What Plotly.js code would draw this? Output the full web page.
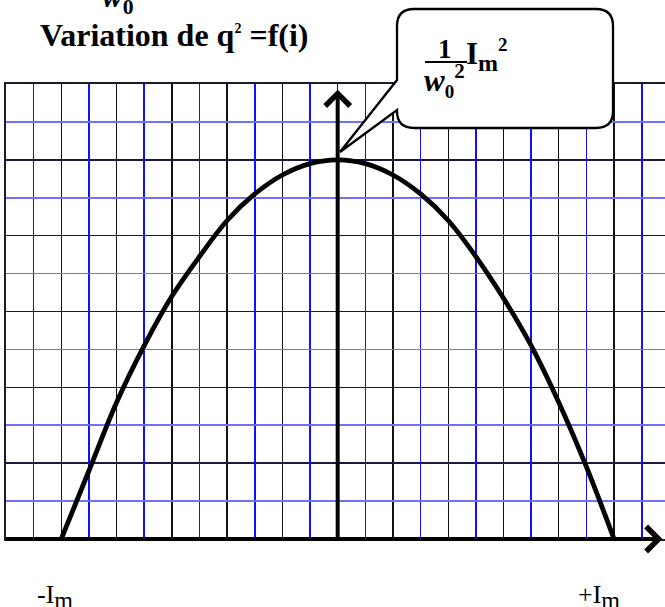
<!DOCTYPE html>
<html>
<head>
<meta charset="utf-8">
<script src="https://cdn.plot.ly/plotly-3.0.1.min.js"></script>
<style>
  html, body { margin: 0; padding: 0; background: #fff; overflow: hidden; width: 665px; height: 607px; }
  #chart { width: 700px; height: 607px; }
</style>
</head>
<body>
<div id="chart"></div>
<script>
// ---- data (i in units of Im, q^2 in units of Im^2/w0^2) ----
const iValues  = [-1.0, -0.9, -0.8, -0.7, -0.6, -0.5, -0.4, -0.3, -0.2, -0.1, 0.0,
                   0.1,  0.2,  0.3,  0.4,  0.5,  0.6,  0.7,  0.8,  0.9, 1.0];
const q2Values = [0.0, 0.18, 0.36, 0.51, 0.64, 0.745, 0.84, 0.91, 0.96, 0.99, 1.0,
                  0.99, 0.96, 0.91, 0.84, 0.745, 0.635, 0.51, 0.36, 0.19, 0.0];
const tickLabels = ['-I<sub><span style="font-size:24px">m</span></sub>',
                    '+I<sub><span style="font-size:24px">m</span></sub>'];
const titleText = '<b>Variation de q<sup><span style="font-size:14px">2</span></sup> =f(i)</b>';
const calloutNum = '<b>1</b>';
const calloutDen = '<b><i>w</i><sub><span style="font-size:19px">0</span></sub><sup><span style="font-size:21px">2</span></sup></b>';
const calloutAmp = '<b>I<sub><span style="font-size:24px">m</span></sub><sup><span style="font-size:19px">2</span></sup></b>';
const topCut = '<b><i>w</i><sub>0</sub></b>';

// ---- layout geometry ----
const W = 700, H = 607, ML = 6, MR = 3, MT = 84, MB = 68;
const PW = W - ML - MR, PH = H - MT - MB;
const px = x => (x - ML) / PW;          // pixel -> paper x
const py = y => (H - MB - y) / PH;      // pixel -> paper y
const FONT = 'Liberation Serif, Times New Roman, serif';
const X_RANGE = [-1.2, 1.3], Y_RANGE = [0, 1.2];

function txt(text, x, y, size, xanchor) {
  return { text: text, xref: 'paper', yref: 'paper', x: px(x), y: py(y),
           xanchor: xanchor || 'center', yanchor: 'middle', showarrow: false,
           borderpad: 0, borderwidth: 0,
           font: { family: FONT, size: size, color: '#000' } };
}

// callout bubble path (pixel geometry converted to paper)
const P = (x, y) => px(x).toFixed(5) + ',' + py(y).toFixed(5);
const bL = 397, bR = 613, bT = 9, bB = 128, r = 17;
const bubble = 'M' + P(bL + r, bT) + ' L' + P(bR - r, bT) +
  ' Q' + P(bR, bT) + ' ' + P(bR, bT + r) +
  ' L' + P(bR, bB - r) + ' Q' + P(bR, bB) + ' ' + P(bR - r, bB) +
  ' L' + P(bL + r, bB) + ' Q' + P(bL, bB) + ' ' + P(bL, bB - r) +
  ' L' + P(bL, 110) + ' L' + P(340, 152) + ' L' + P(bL, 80) +
  ' L' + P(bL, bT + r) + ' Q' + P(bL, bT) + ' ' + P(bL + r, bT) + ' Z';

const curve = {
  x: iValues, y: q2Values, type: 'scatter', mode: 'lines',
  line: { color: '#000', width: 4.8, shape: 'spline', smoothing: 1 },
  hoverinfo: 'skip'
};
// empty trace that only carries the blue (half-step) grid axes
const gridCarrier = { x: [], y: [], type: 'scatter', mode: 'lines', xaxis: 'x2', yaxis: 'y2', hoverinfo: 'skip' };

const arrowBase = { text: ' ', showarrow: true, arrowhead: 4, arrowsize: 1.2, arrowwidth: 4,
  arrowcolor: '#000', xref: 'x', yref: 'y', axref: 'x', ayref: 'y',
  font: { size: 1 }, borderpad: 0, borderwidth: 0 };

const annotations = [
  Object.assign({}, arrowBase, { x: 1.175, y: 0, ax: -1.2, ay: 0 }),
  Object.assign({}, arrowBase, { x: 0, y: 1.185, ax: 0, ay: 0 }),
  txt(titleText, 174.5, 35, 32),
  txt(topCut, 102, -1, 31, 'left'),
  txt(calloutNum, 445, 49, 27),
  txt(calloutDen, 424, 80, 31, 'left'),
  txt(calloutAmp, 466, 55, 31, 'left'),
  txt(tickLabels[0], 37, 596, 26, 'left'),
  txt(tickLabels[1], 578, 596, 26, 'left')
];

const axisCommon = { showticklabels: false, ticks: '', zeroline: false, tickmode: 'linear', dtick: 0.2, fixedrange: true };

const layout = {
  width: W, height: H,
  margin: { l: ML, r: MR, t: MT, b: MB, pad: 0 },
  paper_bgcolor: '#fff', plot_bgcolor: '#fff',
  showlegend: false,
  xaxis: Object.assign({}, axisCommon, {
    range: X_RANGE, tick0: 0, showgrid: true, gridcolor: '#111111', gridwidth: 1.4,
    showline: true, mirror: true, linecolor: '#1a1a30', linewidth: 2
  }),
  yaxis: Object.assign({}, axisCommon, {
    range: Y_RANGE, tick0: 0, showgrid: true, gridcolor: '#1a1a40', gridwidth: 1.6,
    showline: true, mirror: true, linecolor: '#1a1a30', linewidth: 2
  }),
  xaxis2: Object.assign({}, axisCommon, {
    range: X_RANGE, tick0: 0.1, overlaying: 'x', anchor: 'y2', side: 'bottom',
    showgrid: true, gridcolor: '#1010ff', gridwidth: 1.6, showline: false
  }),
  yaxis2: Object.assign({}, axisCommon, {
    range: Y_RANGE, tick0: 0.1, overlaying: 'y', anchor: 'x2', side: 'left',
    showgrid: true, gridcolor: '#7070ff', gridwidth: 1.6, showline: false
  }),
  shapes: [
    { type: 'path', xref: 'paper', yref: 'paper', path: bubble, layer: 'above',
      fillcolor: '#fff', line: { color: '#000', width: 2.3 } },
    { type: 'line', xref: 'paper', yref: 'paper', layer: 'above',
      x0: px(425), x1: px(467), y0: py(62), y1: py(62), line: { color: '#000', width: 2 } }
  ],
  annotations: annotations
};

Plotly.newPlot('chart', [gridCarrier, curve], layout, { staticPlot: true, displayModeBar: false });
</script>
</body>
</html>
